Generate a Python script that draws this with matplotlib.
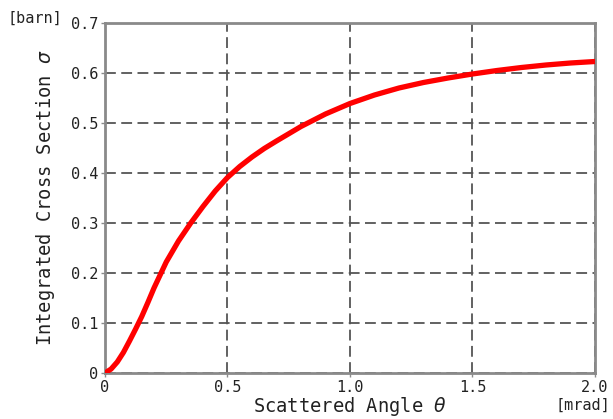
import numpy as np
import matplotlib.pyplot as plt

# scattered angle [mrad] and integrated cross section [barn]
theta = [0.00, 0.025, 0.05, 0.075, 0.10, 0.125, 0.15, 0.175, 0.20, 0.25, 0.30, 0.35,
         0.40, 0.45, 0.50, 0.55, 0.60, 0.65, 0.70, 0.80, 0.90, 1.00, 1.10, 1.20,
         1.30, 1.40, 1.50, 1.60, 1.70, 1.80, 1.90, 2.00]
sigma = [0.000, 0.008, 0.022, 0.041, 0.064, 0.088, 0.113, 0.141, 0.170, 0.222, 0.264, 0.300,
         0.333, 0.364, 0.391, 0.413, 0.432, 0.449, 0.464, 0.493, 0.518, 0.539, 0.556, 0.570,
         0.581, 0.590, 0.598, 0.605, 0.611, 0.616, 0.620, 0.623]

x_ticks = [0, 0.5, 1.0, 1.5, 2.0]
x_tick_labels = ["0", "0.5", "1.0", "1.5", "2.0"]
y_ticks = [0, 0.1, 0.2, 0.3, 0.4, 0.5, 0.6, 0.7]
y_tick_labels = ["0", "0.1", "0.2", "0.3", "0.4", "0.5", "0.6", "0.7"]

plt.rcParams["font.family"] = ["DejaVu Sans Mono", "DejaVu Sans"]

fig = plt.figure(figsize=(6.13, 4.19), dpi=100)
ax = fig.add_axes([0.1713, 0.1098, 0.7993, 0.8353])

ax.plot(theta, sigma, color="#ff0000", linewidth=3.8, solid_capstyle="round", zorder=3)

ax.set_xlim(0, 2.0)
ax.set_ylim(0, 0.7)
ax.set_xticks(x_ticks)
ax.set_xticklabels(x_tick_labels)
ax.set_yticks(y_ticks)
ax.set_yticklabels(y_tick_labels)

ax.grid(True, color="#555555", linestyle=(0, (6, 3)), linewidth=1.3)
for s in ax.spines.values():
    s.set_color("#8a8a8a")
    s.set_linewidth(2)

ax.tick_params(axis="both", length=3, width=1, color="#8a8a8a",
               labelsize=11, labelcolor="#222222", pad=2)

ax.set_xlabel("Scattered Angle $\\theta$", fontsize=13.5, color="#222222", labelpad=0)
ax.set_ylabel("Integrated Cross Section $\\sigma$", fontsize=13.5, color="#222222", labelpad=10)

fig.text(0.012, 0.957, "[barn]", fontsize=11, color="#222222", va="center", ha="left")
fig.text(0.995, 0.033, "[mrad]", fontsize=11, color="#222222", va="center", ha="right")

fig.savefig("out.png", dpi=100)
